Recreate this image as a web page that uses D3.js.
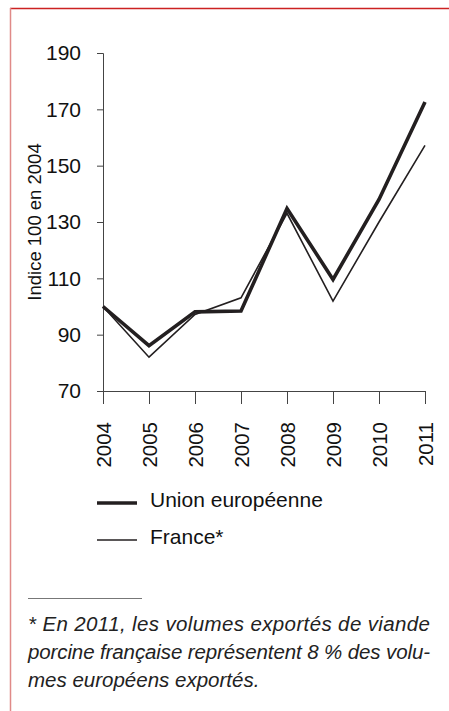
<!DOCTYPE html>
<html>
<head>
<meta charset="utf-8">
<script src="https://cdn.jsdelivr.net/npm/d3@7"></script>
<style>
  body { margin: 0; background: #fff; }
  svg { display: block; font-family: "Liberation Sans", Arial, sans-serif; }
</style>
</head>
<body>
<div id="chart"></div>
<script>
// data
var years = ["2004", "2005", "2006", "2007", "2008", "2009", "2010", "2011"];
var euValues = [100, 86.1, 98.1, 98.4, 134.8, 109.6, 138, 172.6];
var franceValues = [100, 82, 97.2, 103.1, 133.1, 101.9, 130, 157.2];
var yTicks = [70, 90, 110, 130, 150, 170, 190];
var legendLabels = ["Union européenne", "France*"];
var footnoteLines = [
  "* En 2011, les volumes exportés de viande",
  "porcine française représentent 8 % des volu-",
  "mes européens exportés."
];

var svgWidth = 449;
var svgHeight = 711;

var margin = { top: 53, left: 103 };
var width = 322;
var height = 338;

var svg = d3.select("#chart")
  .append("svg")
  .attr("width", svgWidth)
  .attr("height", svgHeight);

// frame (top and left edges)
svg.append("line")
  .attr("x1", 10).attr("x2", svgWidth).attr("y1", 8.5).attr("y2", 8.5)
  .attr("stroke", "#cc2222").attr("stroke-width", 1.5);
svg.append("line")
  .attr("x1", 10.5).attr("x2", 10.5).attr("y1", 8).attr("y2", svgHeight)
  .attr("stroke", "#e08a88").attr("stroke-width", 1.5);

var chartGroup = svg.append("g")
  .attr("transform", `translate(${margin.left}, ${margin.top})`);

var xScale = d3.scalePoint()
  .domain(years)
  .range([0, width]);

var yScale = d3.scaleLinear()
  .domain([70, 190])
  .range([height, 0]);

var leftAxis = d3.axisLeft(yScale).tickValues(yTicks).tickSize(6).tickPadding(16);
var bottomAxis = d3.axisBottom(xScale).tickSize(13).tickPadding(0);

var yAxisG = chartGroup.append("g").call(leftAxis);
yAxisG.select(".domain").attr("d", `M-6,0.5H0.5V${height}`);
yAxisG.selectAll("line, path").attr("stroke", "#444").attr("stroke-width", 1);
yAxisG.selectAll("text")
  .attr("fill", "#111")
  .style("font-size", "21px");

var xAxisG = chartGroup.append("g")
  .attr("transform", `translate(0, ${height})`)
  .call(bottomAxis);
xAxisG.select(".domain").attr("d", `M0,0.5H${width}`);
xAxisG.selectAll("line, path").attr("stroke", "#444").attr("stroke-width", 1);
xAxisG.selectAll("text")
  .attr("fill", "#111")
  .style("font-size", "20.5px")
  .attr("text-anchor", "end")
  .attr("transform", "rotate(-90)")
  .attr("x", -31)
  .attr("y", 0)
  .attr("dy", "0.36em");

// y axis title
chartGroup.append("text")
  .attr("transform", "rotate(-90)")
  .attr("x", -(222 - margin.top))
  .attr("y", -62)
  .attr("text-anchor", "middle")
  .attr("fill", "#111")
  .style("font-size", "18.5px")
  .text("Indice 100 en 2004");

var line = d3.line()
  .x(function(d, i) { return xScale(years[i]); })
  .y(function(d) { return yScale(d); });

chartGroup.append("path")
  .datum(franceValues)
  .attr("d", line)
  .attr("fill", "none")
  .attr("stroke", "#231f20")
  .attr("stroke-width", 1.6);

chartGroup.append("path")
  .datum(euValues)
  .attr("d", line)
  .attr("fill", "none")
  .attr("stroke", "#231f20")
  .attr("stroke-width", 3.6)
  .attr("stroke-linejoin", "miter");

// legend
var legendWidths = [3.6, 1.6];
var legend = svg.append("g");
legendLabels.forEach(function(label, i) {
  var y = 503 + i * 37;
  legend.append("line")
    .attr("x1", 97).attr("x2", 137)
    .attr("y1", y).attr("y2", y)
    .attr("stroke", "#231f20")
    .attr("stroke-width", legendWidths[i]);
  legend.append("text")
    .attr("x", 150)
    .attr("y", y + 4)
    .attr("fill", "#111")
    .style("font-size", "21px")
    .text(label);
});

// footnote (first two lines justified to the same width)
svg.append("line")
  .attr("x1", 28).attr("x2", 142)
  .attr("y1", 598.5).attr("y2", 598.5)
  .attr("stroke", "#777").attr("stroke-width", 1);

svg.selectAll(".footnote")
  .data(footnoteLines)
  .enter()
  .append("text")
  .attr("class", "footnote")
  .attr("x", 28)
  .attr("y", function(d, i) { return 631 + i * 28; })
  .attr("fill", "#222")
  .style("font-size", "20.5px")
  .style("font-style", "italic")
  .each(function(d, i) {
    if (i < footnoteLines.length - 1) {
      d3.select(this).attr("textLength", 402).attr("lengthAdjust", "spacing");
    }
  })
  .text(function(d) { return d; });
</script>
</body>
</html>
